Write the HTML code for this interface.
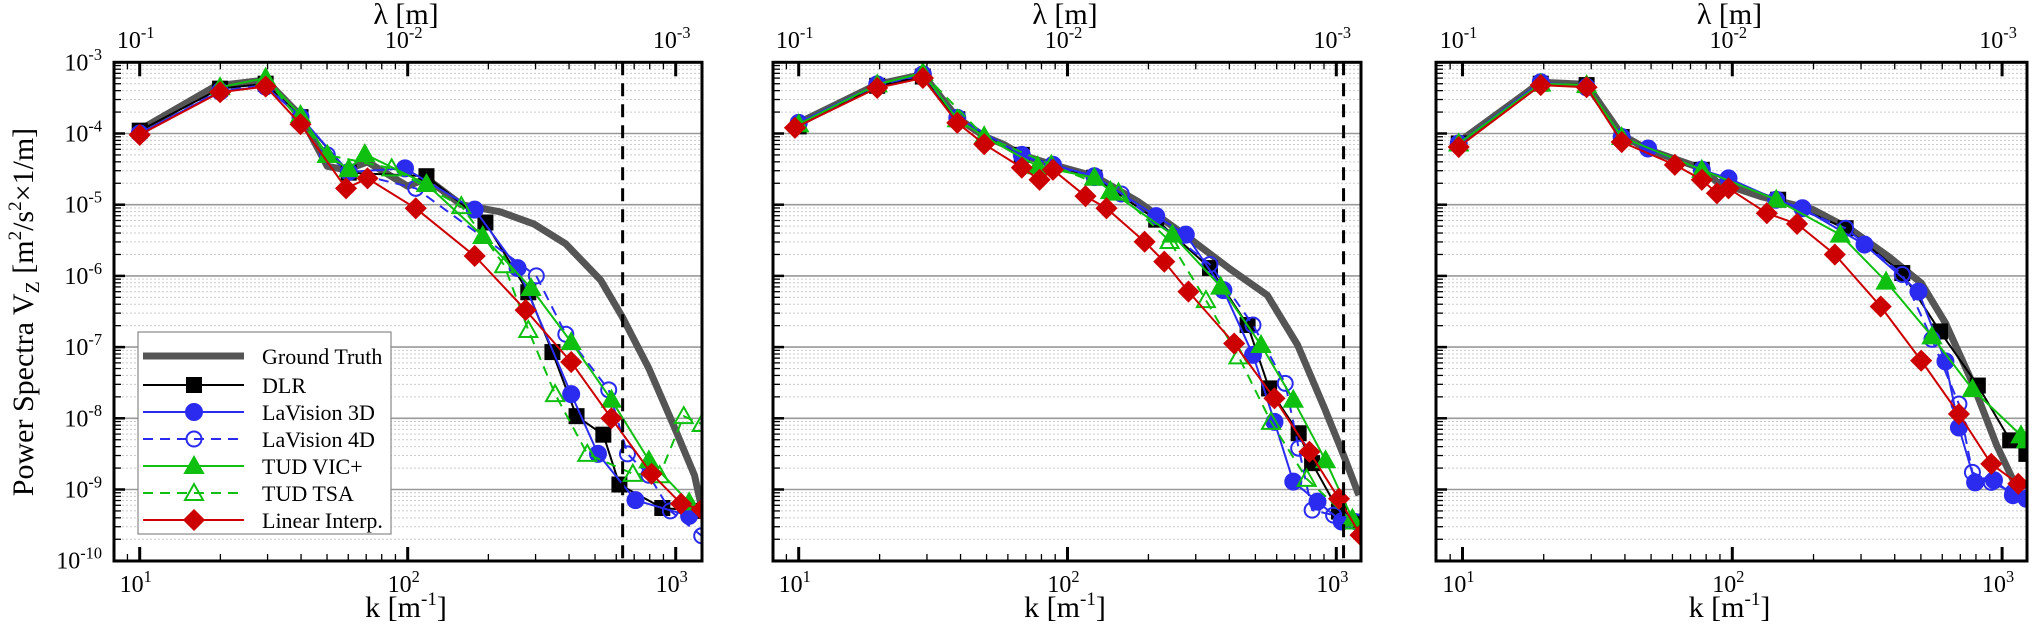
<!DOCTYPE html>
<html><head><meta charset="utf-8"><style>
html,body{margin:0;padding:0;background:#fff;}
svg{display:block;font-family:"Liberation Serif",serif;}
</style></head><body>
<svg id="chart" width="2032" height="627" viewBox="0 0 2032 627" xmlns="http://www.w3.org/2000/svg"></svg>
<script>
// ---- data (log10 k [1/m], log10 P) ----
const p1_gt_logk=[1,1.285,1.47,1.6,1.7,1.77,1.85,2.0,2.07,2.2,2.345,2.47,2.59,2.72,2.8,2.9,2.99,3.07,3.097];
const p1_gt_logp=[-3.95,-3.33,-3.25,-3.75,-4.46,-4.51,-4.4,-4.74,-4.63,-5.0,-5.1,-5.27,-5.55,-6.06,-6.57,-7.3,-8.08,-8.8,-9.26];
const p1_dlr_logk=[1,1.3,1.47,1.6,1.78,2.07,2.29,2.45,2.54,2.63,2.73,2.79,2.95,3.09];
const p1_dlr_logp=[-3.96,-3.37,-3.3,-3.77,-4.55,-4.6,-5.25,-6.23,-7.07,-7.97,-8.23,-8.93,-9.26,-9.3];
const p1_lv3_logk=[1,1.3,1.47,1.6,1.78,1.99,2.25,2.41,2.61,2.71,2.85,3.05];
const p1_lv3_logp=[-4.0,-3.41,-3.34,-3.77,-4.54,-4.49,-5.07,-5.89,-7.66,-8.5,-9.15,-9.37];
const p1_lv4_logk=[1,1.3,1.47,1.6,1.7,1.78,2.03,2.48,2.59,2.75,2.82,2.9,2.98,3.097];
const p1_lv4_logp=[-4.0,-3.4,-3.32,-3.77,-4.3,-4.54,-4.77,-6.0,-6.82,-7.6,-8.5,-8.8,-9.3,-9.65];
const p1_vic_logk=[1.3,1.47,1.6,1.7,1.78,1.84,2.07,2.28,2.46,2.61,2.76,2.9,3.05];
const p1_vic_logp=[-3.35,-3.22,-3.74,-4.3,-4.5,-4.29,-4.71,-5.44,-6.17,-6.93,-7.74,-8.59,-9.18];
const p1_tsa_logk=[1.47,1.7,1.94,2.2,2.36,2.45,2.55,2.67,2.84,2.94,3.03,3.097];
const p1_tsa_logp=[-3.22,-4.3,-4.49,-5.02,-5.85,-6.76,-7.66,-8.5,-8.78,-8.8,-7.97,-8.08];
const p1_lin_logk=[1,1.3,1.47,1.6,1.77,1.85,2.03,2.25,2.44,2.61,2.76,2.91,3.02,3.097];
const p1_lin_logp=[-4.02,-3.42,-3.34,-3.87,-4.77,-4.63,-5.05,-5.72,-6.48,-7.21,-8.0,-8.78,-9.2,-9.28];

const p2_gt_logk=[1,1.292,1.462,1.59,1.69,1.761,1.83,1.946,2.10,2.26,2.46,2.6,2.743,2.856,2.956,3.027,3.084];
const p2_gt_logp=[-3.85,-3.31,-3.17,-3.78,-4.04,-4.15,-4.3,-4.44,-4.6,-4.95,-5.49,-5.89,-6.27,-6.97,-7.86,-8.52,-9.08];
const p2_dlr_logk=[1,1.292,1.462,1.59,1.83,2.1,2.33,2.53,2.67,2.75,2.86,2.91,3.01,3.09];
const p2_dlr_logp=[-3.9,-3.33,-3.2,-3.8,-4.3,-4.62,-5.21,-5.89,-6.69,-7.58,-8.21,-8.63,-9.31,-9.45];
const p2_lv3_logk=[1,1.292,1.462,1.59,1.83,1.946,2.1,2.33,2.44,2.58,2.69,2.77,2.84,2.93,3.02];
const p2_lv3_logp=[-3.85,-3.31,-3.17,-3.78,-4.3,-4.44,-4.6,-5.16,-5.42,-6.2,-7.11,-8.05,-8.89,-9.17,-9.45];
const p2_lv4_logk=[1,1.292,1.462,1.59,1.83,2.1,2.2,2.53,2.69,2.81,2.86,2.91,2.99,3.07];
const p2_lv4_logp=[-3.87,-3.32,-3.18,-3.79,-4.32,-4.62,-4.85,-5.84,-6.69,-7.51,-8.42,-9.29,-9.36,-9.45];
const p2_vic_logk=[1,1.292,1.462,1.59,1.69,1.889,2.1,2.16,2.39,2.57,2.72,2.84,2.96,3.06];
const p2_vic_logp=[-3.87,-3.31,-3.15,-3.8,-4.04,-4.46,-4.62,-4.81,-5.42,-6.15,-6.97,-7.74,-8.59,-9.41];
const p2_tsa_logk=[1.462,1.69,1.94,2.19,2.38,2.515,2.636,2.757,2.89,3.06];
const p2_tsa_logp=[-3.15,-4.04,-4.44,-4.83,-5.51,-6.34,-7.13,-8.05,-8.85,-9.45];
const p2_lin_logk=[0.986,1.292,1.462,1.59,1.69,1.83,1.896,1.946,2.067,2.145,2.287,2.36,2.45,2.62,2.77,2.9,3.01,3.09];
const p2_lin_logp=[-3.92,-3.36,-3.22,-3.85,-4.15,-4.48,-4.65,-4.51,-4.88,-5.05,-5.52,-5.8,-6.22,-6.95,-7.72,-8.47,-9.13,-9.64];

const p3_gt_logk=[0.986,1.29,1.46,1.59,1.69,1.887,1.943,2.11,2.3,2.44,2.58,2.7,2.79,2.89,2.98,3.05];
const p3_gt_logp=[-4.12,-3.28,-3.31,-4.02,-4.23,-4.49,-4.68,-4.89,-5.07,-5.35,-5.73,-6.1,-6.66,-7.5,-8.38,-8.94];
const p3_dlr_logk=[0.986,1.29,1.46,1.59,1.887,2.17,2.42,2.63,2.77,2.91,3.03,3.09];
const p3_dlr_logp=[-4.14,-3.3,-3.32,-4.05,-4.51,-4.93,-5.33,-5.96,-6.78,-7.54,-8.31,-8.5];
const p3_lv3_logk=[0.986,1.29,1.46,1.59,1.688,1.887,1.986,2.163,2.26,2.49,2.69,2.79,2.84,2.9,2.97,3.04,3.09];
const p3_lv3_logp=[-4.14,-3.28,-3.35,-4.05,-4.21,-4.51,-4.63,-4.93,-5.05,-5.56,-6.22,-7.2,-8.13,-8.9,-8.87,-9.08,-9.13];
const p3_lv4_logk=[0.986,1.29,1.46,1.59,1.887,2.163,2.42,2.63,2.74,2.84,2.89,2.96,3.04,3.09];
const p3_lv4_logp=[-4.14,-3.28,-3.34,-4.05,-4.51,-4.93,-5.33,-5.98,-6.89,-7.8,-8.76,-8.9,-9.04,-9.08];
const p3_vic_logk=[0.986,1.29,1.46,1.59,1.887,2.163,2.4,2.57,2.74,2.89,3.07,3.09];
const p3_vic_logp=[-4.14,-3.3,-3.32,-4.05,-4.51,-4.93,-5.42,-6.08,-6.85,-7.59,-8.24,-8.31];
const p3_lin_logk=[0.986,1.29,1.46,1.59,1.787,1.887,1.943,1.986,2.128,2.24,2.38,2.55,2.7,2.84,2.96,3.06];
const p3_lin_logp=[-4.19,-3.32,-3.35,-4.12,-4.44,-4.65,-4.84,-4.77,-5.12,-5.27,-5.7,-6.43,-7.19,-7.94,-8.64,-8.92];

const yTickExps=[-3,-4,-5,-6,-7,-8,-9,-10];
const xTickExps=[1,2,3];
const topTickExps=[-1,-2,-3];
const legendLabels=["Ground Truth","DLR","LaVision 3D","LaVision 4D","TUD VIC+","TUD TSA","Linear Interp."];
const cutoffLogK=[2.802,3.027,null];

const NS="http://www.w3.org/2000/svg";
const svg=document.getElementById('chart');
function mk(tag,attrs,parent){const e=document.createElementNS(NS,tag);for(const k in attrs)e.setAttribute(k,attrs[k]);(parent||svg).appendChild(e);return e;}

const styles={
 gt:{color:"#555",w:7,dash:null,marker:null},
 dlr:{color:"#000",w:2,dash:null,marker:"square",fill:true},
 lv3:{color:"#2b2bef",w:2,dash:null,marker:"circle",fill:true},
 lv4:{color:"#2b2bef",w:2,dash:"10 7",marker:"circle",fill:false},
 vic:{color:"#10c010",w:2,dash:null,marker:"triangle",fill:true},
 tsa:{color:"#10c010",w:2,dash:"10 7",marker:"triangle",fill:false},
 lin:{color:"#cc0000",w:2,dash:null,marker:"diamond",fill:true}
};
const keys=["gt","dlr","lv3","lv4","vic","tsa","lin"];

function marker(g,type,x,y,st){
  const f=st.fill?st.color:"none";
  let e;
  if(type==="square") e=mk('rect',{x:x-7,y:y-7,width:14,height:14,fill:f,stroke:st.color,'stroke-width':2},g);
  else if(type==="circle") e=mk('circle',{cx:x,cy:y,r:st.fill?8:7.5,fill:f,stroke:st.color,'stroke-width':2},g);
  else if(type==="triangle") e=mk('polygon',{points:`${x},${y-9} ${x+9},${y+7} ${x-9},${y+7}`,fill:f,stroke:st.color,'stroke-width':2},g);
  else if(type==="diamond") e=mk('polygon',{points:`${x},${y-10} ${x+10},${y} ${x},${y+10} ${x-10},${y}`,fill:f,stroke:st.color,'stroke-width':1.5},g);
  return e;
}

function supText(parent,x,y,base,sup,size,anchor,name){
  const t=mk('text',{x:x,y:y,'font-size':size,'text-anchor':anchor,fill:'#000'},parent);
  
  
  const a=mk('tspan',{},t);a.textContent=base;
  const b=mk('tspan',{'font-size':size*0.68,dy:-size*0.42},t);b.textContent=sup;
  return t;
}

const panels=[
 {id:1,left:114,right:702,x10:139.7,dec:268,data:{gt:[p1_gt_logk,p1_gt_logp],dlr:[p1_dlr_logk,p1_dlr_logp],lv3:[p1_lv3_logk,p1_lv3_logp],lv4:[p1_lv4_logk,p1_lv4_logp],vic:[p1_vic_logk,p1_vic_logp],tsa:[p1_tsa_logk,p1_tsa_logp],lin:[p1_lin_logk,p1_lin_logp]}},
 {id:2,left:773,right:1361,x10:798.7,dec:268.8,data:{gt:[p2_gt_logk,p2_gt_logp],dlr:[p2_dlr_logk,p2_dlr_logp],lv3:[p2_lv3_logk,p2_lv3_logp],lv4:[p2_lv4_logk,p2_lv4_logp],vic:[p2_vic_logk,p2_vic_logp],tsa:[p2_tsa_logk,p2_tsa_logp],lin:[p2_lin_logk,p2_lin_logp]}},
 {id:3,left:1436,right:2027,x10:1462.5,dec:269.8,data:{gt:[p3_gt_logk,p3_gt_logp],dlr:[p3_dlr_logk,p3_dlr_logp],lv3:[p3_lv3_logk,p3_lv3_logp],lv4:[p3_lv4_logk,p3_lv4_logp],vic:[p3_vic_logk,p3_vic_logp],lin:[p3_lin_logk,p3_lin_logp]}}
];
const TOP=62.3,BOT=561,YDEC=71.2;
function yMap(lp){return TOP+YDEC*(-3-lp);}

panels.forEach((p,pi)=>{
  const xMap=lk=>p.x10+p.dec*(lk-1);
  const g=mk('g',{});
  
  
  const clipId='clip'+p.id;
  const cp=mk('clipPath',{id:clipId},g);
  mk('rect',{x:p.left,y:TOP,width:p.right-p.left,height:BOT-TOP},cp);
  // grid
  const grid=mk('g',{},g);
  
  
  for(let e=-10;e<-3;e++){
    for(let m=2;m<=9;m++){
      const y=yMap(e+Math.log10(m));
      mk('line',{x1:p.left,x2:p.right,y1:y,y2:y,stroke:'#ccc','stroke-width':1,'stroke-dasharray':'2 2'},grid);
      mk('line',{x1:p.left,x2:p.left+7,y1:y,y2:y,stroke:'#000','stroke-width':1.3},grid);
    }
  }
  yTickExps.forEach(e=>{
    const y=yMap(e);
    if(e>-10&&e<-3) mk('line',{x1:p.left,x2:p.right,y1:y,y2:y,stroke:'#999','stroke-width':1.6},grid);
    mk('line',{x1:p.left,x2:p.left+11,y1:y,y2:y,stroke:'#000','stroke-width':2.5},grid);
    if(pi===0){
      supText(g,p.left-12,y+8,'10',String(e),24,'end','y-tick-label');
    }
  });
  // x ticks
  const lkMin=1-(p.x10-p.left)/p.dec, lkMax=1+(p.right-p.x10)/p.dec;
  for(let d=0;d<=3;d++){
    for(let m=1;m<=9;m++){
      const lk=d+Math.log10(m);
      if(lk<lkMin||lk>lkMax) continue;
      const x=xMap(lk);const L=m===1?14:7;const w=m===1?3:1.3;
      mk('line',{x1:x,x2:x,y1:BOT,y2:BOT-L,stroke:'#000','stroke-width':w},g);
      mk('line',{x1:x,x2:x,y1:TOP,y2:TOP+L,stroke:'#000','stroke-width':w},g);
    }
  }
  xTickExps.forEach(e=>supText(g,xMap(e)-4,592,'10',String(e),24,'middle','x-tick-label'));
  topTickExps.forEach((e,i)=>supText(g,xMap(xTickExps[i])-4,48,'10',String(e),24,'middle','top-tick-label'));
  const xt=mk('text',{x:(p.left+p.right)/2-2,y:617,'font-size':30,'text-anchor':'middle'},g);
  
  
  const a1=mk('tspan',{},xt);a1.textContent='k [m';
  const a2=mk('tspan',{'font-size':19,dy:-12},xt);a2.textContent='-1';
  const a3=mk('tspan',{dy:12},xt);a3.textContent=']';
  const tt=mk('text',{x:(p.left+p.right)/2-2,y:24,'font-size':30,'text-anchor':'middle'},g);
  
  
  tt.textContent='λ [m]';
  // series
  const sg=mk('g',{'clip-path':`url(#${clipId})`},g);
  keys.forEach(k=>{
    if(!p.data[k]) return;
    const [lk,lp]=p.data[k];const st=styles[k];
    const pts=lk.map((v,i)=>xMap(v).toFixed(1)+','+yMap(lp[i]).toFixed(1)).join(' ');
    const attrs={points:pts,fill:'none',stroke:st.color,'stroke-width':st.w,'stroke-linejoin':'round'};
    if(st.dash) attrs['stroke-dasharray']=st.dash;
    const pl=mk('polyline',attrs,sg);
    
    
    if(st.marker){
      lk.forEach((v,i)=>{
        const m=marker(sg,st.marker,xMap(v),yMap(lp[i]),st);
        
        
      });
    }
  });
  if(cutoffLogK[pi]!==null){
    const x=xMap(cutoffLogK[pi]);
    const dl=mk('line',{x1:x,x2:x,y1:TOP,y2:BOT,stroke:'#000','stroke-width':3,'stroke-dasharray':'13 8'},g);
    
    
  }
  // frame
  const fr=mk('rect',{x:p.left,y:TOP,width:p.right-p.left,height:BOT-TOP,fill:'none',stroke:'#000','stroke-width':3},g);
  
  
  if(pi===0){
    const lg=mk('g',{},g);
    
    
    mk('rect',{x:138,y:332,width:253,height:202,fill:'#fff',stroke:'#888','stroke-width':1.2},lg);
    const rows=[356,385,412,439,466,493,520];
    keys.forEach((k,i)=>{
      const st=styles[k];const y=rows[i];
      const la={x1:143,x2:244,y1:y,y2:y,stroke:st.color,'stroke-width':st.w};
      if(st.dash) la['stroke-dasharray']='10 7';
      mk('line',la,lg);
      if(st.marker) marker(lg,st.marker,194,y,st);
      const t=mk('text',{x:262,y:y+8,'font-size':22,fill:'#000'},lg);
      
      
      t.textContent=legendLabels[i];
    });
  }
});
// y-axis title
const yt=mk('text',{x:0,y:0,'font-size':30,'text-anchor':'middle',transform:'translate(33,312) rotate(-90)'});


[['Power Spectra V',0,30],['Z',6,20],[' [m',-6,30],['2',-12,19],['/s',12,30],['2',-12,19],['×1/m]',12,30]].forEach(s=>{
  const ts=mk('tspan',{dy:s[1],'font-size':s[2]},yt);ts.textContent=s[0];
});
</script>
</body></html>
